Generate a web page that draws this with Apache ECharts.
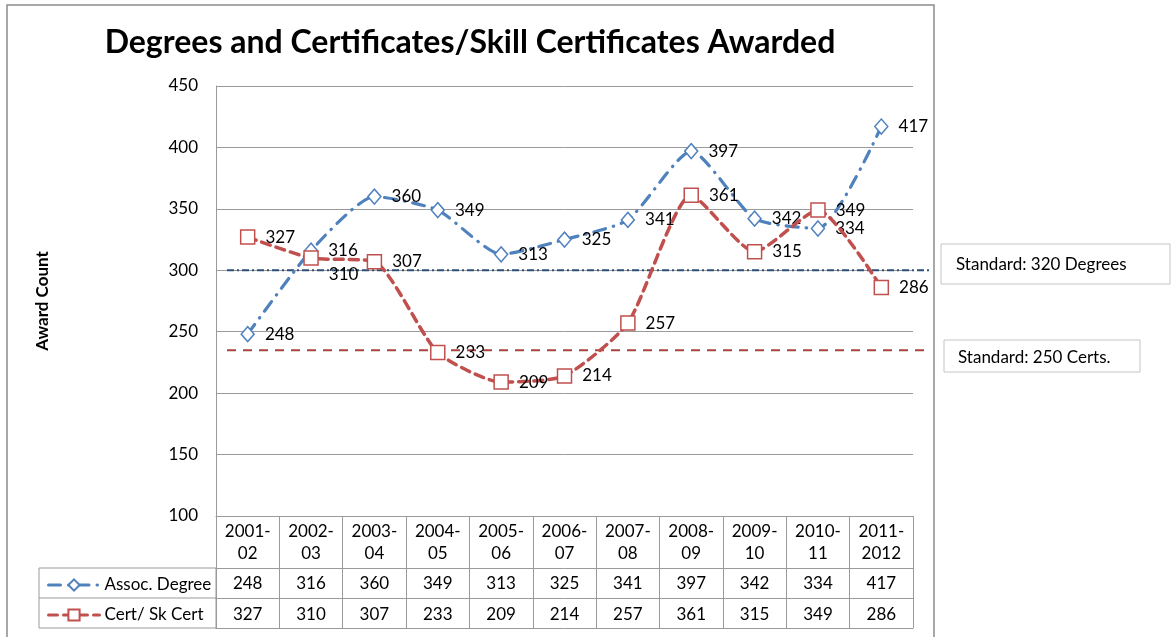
<!DOCTYPE html>
<html>
<head>
<meta charset="utf-8">
<script src="https://cdn.jsdelivr.net/npm/echarts@6/dist/echarts.min.js"></script>
<style>
html,body{margin:0;padding:0;background:#fff;}
#chart{width:1172px;height:637px;}
</style>
</head>
<body>
<div id="chart"></div>
<script>
// ---- data ----
const categories = ['2001-\n02','2002-\n03','2003-\n04','2004-\n05','2005-\n06','2006-\n07','2007-\n08','2008-\n09','2009-\n10','2010-\n11','2011-\n2012'];
const assocDegree = [248, 316, 360, 349, 313, 325, 341, 397, 342, 334, 417];
const certSkCert = [327, 310, 307, 233, 209, 214, 257, 361, 315, 349, 286];
const seriesNames = ['Assoc. Degree', 'Cert/ Sk Cert'];
const standardDegreeLevel = 300;
const standardCertLevel = 235;
const standardLabels = ['Standard: 320 Degrees', 'Standard: 250 Certs.'];
const titleText = 'Degrees and Certificates/Skill Certificates Awarded';
const yAxisTitle = 'Award Count';

// ---- styles/layout ----
const FONT = 'Lato, "Liberation Sans", sans-serif';
const FS = 17;
const BLUE = '#4F81BD';
const RED = '#C0504D';
const GRAY = '#9a9a9a';
const G = {left: 216, right: 259, top: 86, bottom: 121};

const chart = echarts.init(document.getElementById('chart'));

const certData = certSkCert.map((v, i) => i === 1 ? {value: v, label: {offset: [0, 17]}} : v);

const hiddenCat = (data, offset, margin, showLabel) => ({
  type: 'category', gridIndex: 0, position: 'bottom', offset: offset, data: data,
  boundaryGap: true,
  axisLine: {show: true, lineStyle: {color: GRAY, width: 1}},
  axisTick: {show: false},
  axisLabel: {show: showLabel, interval: 0, margin: margin, color: '#000', fontFamily: FONT, fontSize: FS, lineHeight: 20},
  splitLine: {show: false}
});

chart.setOption({
  animation: false,
  backgroundColor: '#fff',
  grid: [
    {left: G.left, right: G.right, top: G.top, bottom: G.bottom},
    {left: 227, right: 242, top: G.top, bottom: G.bottom}
  ],
  legend: {
    orient: 'vertical', left: 42, top: 570, itemGap: 10,
    itemWidth: 51, itemHeight: 14,
    data: seriesNames,
    lineStyle: {width: 3},
    textStyle: {color: '#000', fontFamily: FONT, fontSize: FS, lineHeight: 20}
  },
  xAxis: [
    {
      type: 'category', gridIndex: 0, data: categories, boundaryGap: true,
      axisLine: {show: true, lineStyle: {color: GRAY, width: 1}},
      axisTick: {show: true, interval: 0, length: 112, lineStyle: {color: GRAY, width: 1}},
      axisLabel: {interval: 0, margin: 5, color: '#000', fontFamily: FONT, fontSize: FS, lineHeight: 22},
      splitLine: {show: false}
    },
    hiddenCat(assocDegree.map(String), 52, 6, true),
    hiddenCat(certSkCert.map(String), 82, 7, true),
    hiddenCat(categories, 112, 5, false),
    {type: 'value', gridIndex: 1, min: 0, max: 1, show: false}
  ],
  yAxis: [
    {
      type: 'value', gridIndex: 0, min: 100, max: 450, interval: 50,
      name: yAxisTitle, nameLocation: 'middle', nameRotate: 90, nameGap: 165,
      nameTextStyle: {color: '#000', fontFamily: FONT, fontSize: 17, fontWeight: 'bold'},
      axisLine: {show: true, lineStyle: {color: GRAY, width: 1}},
      axisTick: {show: false},
      axisLabel: {margin: 18, color: '#000', fontFamily: FONT, fontSize: FS},
      splitLine: {show: true, lineStyle: {color: GRAY, width: 1}}
    },
    {type: 'value', gridIndex: 1, min: 100, max: 450, show: false}
  ],
  series: [
    {
      name: 'stdDegree', type: 'line', xAxisIndex: 4, yAxisIndex: 1, silent: true,
      data: [[0, standardDegreeLevel], [1, standardDegreeLevel]], symbol: 'none',
      lineStyle: {color: '#2C4D75', width: 2, type: [7, 3, 2, 3]}, z: 1
    },
    {
      name: 'stdCert', type: 'line', xAxisIndex: 4, yAxisIndex: 1, silent: true,
      data: [[0, standardCertLevel], [1, standardCertLevel]], symbol: 'none',
      lineStyle: {color: '#A94442', width: 2, type: [9, 7]}, z: 1
    },
    {
      name: seriesNames[0], type: 'line', xAxisIndex: 0, yAxisIndex: 0,
      data: assocDegree, smooth: 0.2,
      symbol: 'diamond', symbolSize: [13, 15],
      itemStyle: {color: '#fff', borderColor: BLUE, borderWidth: 1.5},
      lineStyle: {color: BLUE, width: 3.2, type: [12, 8, 0.5, 8], cap: 'round'},
      label: {show: true, position: 'right', distance: 10, color: '#000', fontFamily: FONT, fontSize: FS},
      z: 3
    },
    {
      name: seriesNames[1], type: 'line', xAxisIndex: 0, yAxisIndex: 0,
      data: certData, smooth: 0.2,
      symbol: 'rect', symbolSize: 14,
      itemStyle: {color: '#fff', borderColor: RED, borderWidth: 1.5},
      lineStyle: {color: RED, width: 3.5, type: [9, 6], cap: 'round'},
      label: {show: true, position: 'right', distance: 10, color: '#000', fontFamily: FONT, fontSize: FS},
      z: 4
    }
  ],
  graphic: [
    {type: 'rect', shape: {x: 7, y: 5, width: 927, height: 660}, style: {fill: null, stroke: '#8c8c8c', lineWidth: 1.5}, silent: true, z: -1},
    {type: 'text', x: 470, y: 43, style: {text: titleText, align: 'center', verticalAlign: 'middle', fill: '#000', font: 'bold 32px ' + FONT}},
    {type: 'rect', shape: {x: 39, y: 568, width: 177, height: 60}, style: {fill: null, stroke: GRAY, lineWidth: 1}},
    {type: 'line', shape: {x1: 39, y1: 598, x2: 216, y2: 598}, style: {stroke: GRAY, lineWidth: 1}},
    {type: 'rect', shape: {x: 941, y: 244, width: 229, height: 40}, style: {fill: '#fff', stroke: '#c4c4c4', lineWidth: 1}},
    {type: 'text', x: 956, y: 265, style: {text: standardLabels[0], verticalAlign: 'middle', fill: '#000', font: '17px ' + FONT}},
    {type: 'rect', shape: {x: 944, y: 340, width: 196, height: 32}, style: {fill: '#fff', stroke: '#c4c4c4', lineWidth: 1}},
    {type: 'text', x: 958, y: 358, style: {text: standardLabels[1], verticalAlign: 'middle', fill: '#000', font: '17px ' + FONT}}
  ]
});
</script>
</body>
</html>
